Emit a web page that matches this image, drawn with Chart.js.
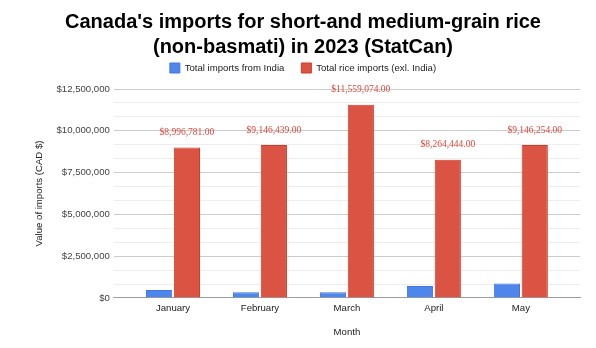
<!DOCTYPE html>
<html>
<head>
<meta charset="utf-8">
<script src="https://cdn.jsdelivr.net/npm/chart.js@4"></script>
<style>
    html, body { margin: 0; padding: 0; background: #fff; }
    #wrap { width: 596px; height: 348px; }
</style>
</head>
<body>
<div id="wrap"><canvas id="chartRice"></canvas></div>
<script>
const months = ["January", "February", "March", "April", "May"];
const fromIndia = [480000, 340000, 340000, 720000, 860000];
const otherImports = [8996781, 9146439, 11559074, 8264444, 9146254];
const yTicks = [0, 2500000, 5000000, 7500000, 10000000, 12500000];

// minor grid every third of a major step, like the sheets default
const minorTicks = [];
for (let i = 0; i <= 15; i++) minorTicks.push(Math.round(i * 2500000 / 3));

const money = v => "$" + v.toLocaleString("en-US");
const SANS = "'Liberation Sans', Arial, sans-serif";
const small = { family: SANS, size: 9.6 };

// red value labels above the second series
const valueLabels = {
    id: "valueLabels",
    afterDatasetsDraw(chart) {
        const ctx = chart.ctx;
        const meta = chart.getDatasetMeta(1);
        ctx.save();
        ctx.font = "9.5px 'Liberation Serif', 'Times New Roman', serif";
        ctx.fillStyle = "#e0473a";
        ctx.textAlign = "center";
        ctx.textBaseline = "middle";
        meta.data.forEach((bar, i) => {
            const v = otherImports[i];
            const txt = "$" + v.toLocaleString("en-US", { minimumFractionDigits: 2 });
            ctx.fillText(txt, bar.x, bar.y - 15);
        });
        ctx.restore();
    }
};

// a bit more room between the legend and the plot
const legendGap = {
    id: "legendGap",
    afterInit(chart) {
        const fit = chart.legend.fit;
        chart.legend.fit = function () {
            fit.call(this);
            this.height += 6;
        };
    }
};

new Chart(document.getElementById("chartRice"), {
    type: "bar",
    data: {
        datasets: [{
            label: "Total imports from India",
            data: fromIndia.map((v, i) => ({ x: i, y: v })),
            backgroundColor: "#4f86ec",
            borderColor: "#3f78e0",
            borderWidth: 1
        }, {
            label: "Total rice imports (exl. India)",
            data: otherImports.map((v, i) => ({ x: i, y: v })),
            backgroundColor: "#db5343",
            borderColor: "#d53a26",
            borderWidth: 1
        }]
    },
    options: {
        responsive: true,
        maintainAspectRatio: false,
        animation: false,
        categoryPercentage: 0.64,
        barPercentage: 0.94,
        layout: { padding: { left: 26, right: 16, top: 0, bottom: 10 } },
        plugins: {
            title: {
                display: true,
                text: ["Canada's imports for short-and medium-grain rice", "(non-basmati) in 2023 (StatCan)"],
                color: "#000",
                font: { family: SANS, size: 20, weight: "bold", lineHeight: 1.25 },
                padding: { top: 10, bottom: -14 }
            },
            legend: {
                labels: {
                    boxWidth: 10,
                    boxHeight: 10,
                    color: "#222",
                    font: small,
                    padding: 17
                }
            },
            tooltip: { enabled: false }
        },
        scales: {
            x: {
                type: "linear",
                offset: false,
                min: -0.68,
                max: 4.68,
                afterBuildTicks: scale => { scale.ticks = months.map((m, i) => ({ value: i })); },
                ticks: {
                    callback: v => months[v],
                    color: "#222",
                    font: small,
                    padding: 5
                },
                grid: { display: false, drawTicks: false },
                border: { display: true, color: "#9e9e9e", width: 1 },
                title: {
                    display: true,
                    text: "Month",
                    color: "#222",
                    font: small,
                    padding: { top: 7, bottom: 0 }
                }
            },
            y: {
                min: 0,
                max: 12500000,
                afterBuildTicks: scale => { scale.ticks = minorTicks.map(v => ({ value: v })); },
                ticks: {
                    callback: (v, i) => (i % 3 === 0 && yTicks.includes(v)) ? money(v) : "",
                    color: "#444",
                    font: small,
                    padding: 4,
                    autoSkip: false
                },
                grid: {
                    color: c => (c.index % 3 === 0 ? "#cccccc" : "#ededed"),
                    drawTicks: false
                },
                border: { display: false },
                title: {
                    display: true,
                    text: "Value of imports (CAD $)",
                    color: "#222",
                    font: small,
                    padding: { top: 8, bottom: 7 }
                }
            }
        }
    },
    plugins: [valueLabels, legendGap]
});
</script>
</body>
</html>
